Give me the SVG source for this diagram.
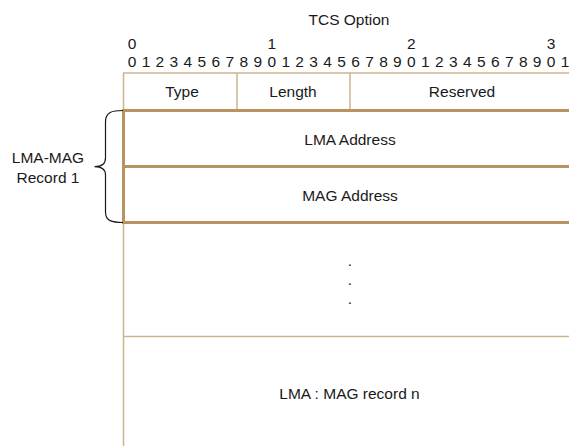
<svg xmlns="http://www.w3.org/2000/svg" width="569" height="446" viewBox="0 0 569 446">
  <style>
    text { font-family: "Liberation Sans", Arial, sans-serif; font-size: 15.5px; fill: #1a1a1a; }
    .c { text-anchor: middle; }
    .thin { stroke: #cdb490; stroke-width: 1.5; fill: none; }
    .thick { stroke: #b8935f; stroke-width: 3; fill: none; }
    .brace { stroke: #1a1a1a; stroke-width: 1.2; fill: none; }
  </style>
  <rect width="569" height="446" fill="#ffffff"/>

  <!-- title and bit ruler -->
  <g id="header">
    <text class="c" x="349" y="24.5">TCS Option</text>
    <text class="c" x="132" y="49">0</text>
    <text class="c" x="271.7" y="49">1</text>
    <text class="c" x="411.4" y="49">2</text>
    <text class="c" x="551.1" y="49">3</text>
    <text y="66.5" x="127.7 136.3 141.7 150.3 155.6 164.2 169.6 178.2 183.6 192.2 197.6 206.2 211.5 220.1 225.5 234.1 239.5 248.1 253.4 262 267.4 276 281.4 290 295.3 303.9 309.3 317.9 323.3 331.9 337.3 345.9 351.2 359.8 365.2 373.8 379.2 387.8 393.1 401.7 407.1 415.7 421.1 429.7 435 443.6 449 457.6 463 471.6 477 485.6 490.9 499.5 504.9 513.5 518.9 527.5 532.8 541.4 546.8 555.4 560.8">0 1 2 3 4 5 6 7 8 9 0 1 2 3 4 5 6 7 8 9 0 1 2 3 4 5 6 7 8 9 0 1</text>
  </g>

  <!-- packet frame lines -->
  <g id="frame">
    <line class="thin" x1="123.5" y1="73" x2="123.5" y2="446"/>
    <line class="thin" x1="123" y1="73" x2="569" y2="73"/>
    <line class="thin" x1="237" y1="73" x2="237" y2="110"/>
    <line class="thin" x1="350" y1="73" x2="350" y2="110"/>
    <line class="thin" x1="123" y1="336.5" x2="569" y2="336.5"/>
    <line class="thick" x1="123.5" y1="110.5" x2="123.5" y2="222.5"/>
    <line class="thick" x1="122" y1="110.5" x2="569" y2="110.5"/>
    <line class="thick" x1="122" y1="166.5" x2="569" y2="166.5"/>
    <line class="thick" x1="122" y1="222.5" x2="569" y2="222.5"/>
  </g>

  <g id="type"><text class="c" x="182" y="96.5">Type</text></g>
  <g id="length"><text class="c" x="293" y="96.5">Length</text></g>
  <g id="reserved"><text class="c" x="462" y="96.5">Reserved</text></g>
  <g id="lma-address"><text class="c" x="350" y="145">LMA Address</text></g>
  <g id="mag-address"><text class="c" x="350" y="200.5">MAG Address</text></g>
  <g id="ellipsis">
    <text class="c" x="350" y="266">.</text>
    <text class="c" x="350" y="285">.</text>
    <text class="c" x="350" y="304">.</text>
  </g>
  <g id="record-n"><text class="c" x="349.5" y="398.5">LMA : MAG record n</text></g>

  <!-- curly brace grouping the first record -->
  <g id="record-1">
    <path class="brace" d="M123,110.5 C112,110.5 105.5,112 105.5,122 L105.5,158 C105.5,164 101,166.7 94.5,166.7 C101,166.7 105.5,169 105.5,175 L105.5,212 C105.5,221 112,222.5 123,222.5"/>
    <text class="c" x="48" y="163">LMA-MAG</text>
    <text class="c" x="48" y="182.5">Record 1</text>
  </g>
</svg>
